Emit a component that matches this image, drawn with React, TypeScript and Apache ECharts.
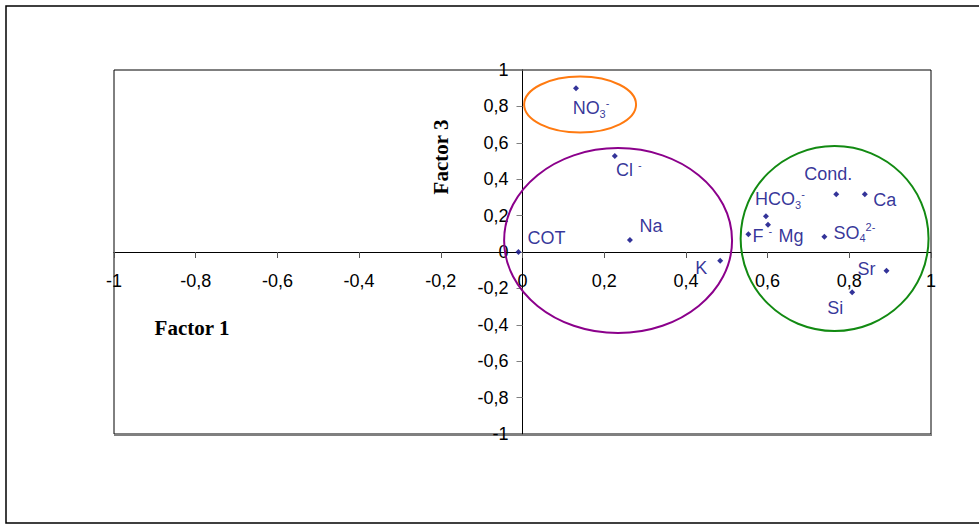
import React, { useEffect, useRef } from 'react';
import * as echarts from 'echarts';

// Element loadings (Factor 1 on x, Factor 3 on y)
const elementLabels = [
  'NO{sub|3}{sup|-}',
  'Cl {sup|-}',
  'Na',
  'COT',
  'K',
  'F {sup|-}',
  'HCO{sub|3}{sup|-}',
  'Mg',
  'SO{sub|4}{sup|2-}',
  'Cond.',
  'Ca',
  'Sr',
  'Si',
];
const factor1 = [0.131, 0.226, 0.263, -0.01, 0.484, 0.553, 0.596, 0.601, 0.739, 0.768, 0.838, 0.891, 0.807];
const factor3 = [0.9, 0.527, 0.066, 0.0, -0.048, 0.097, 0.196, 0.15, 0.084, 0.317, 0.317, -0.103, -0.221];

// Cluster ellipses (data units)
const clusterCenterX = [0.141, 0.234, 0.764];
const clusterCenterY = [0.81, 0.063, 0.074];
const clusterRadiusX = [0.137, 0.279, 0.23];
const clusterRadiusY = [0.154, 0.508, 0.508];
const clusterColors = ['#FF7A10', '#8B008B', '#128A12'];

// Label placement (pixel offsets from each point)
const labelOffsets = [
  [15, 20], [14, 14], [21, -14], [28, -14], [-19, 7], [14, 2], [14, -17],
  [23, 11], [30, -4], [-8, -20], [20, 6], [-20, -2], [-17, 16],
];

const fmt = (v: number) => String(Math.round(v * 10) / 10).replace('.', ',');

const GRID_LEFT = 114;
const GRID_TOP = 70;
const GRID_W = 817;
const GRID_H = 364;

export default function App() {
  const ref = useRef<HTMLDivElement>(null);
  useEffect(() => {
    if (!ref.current) return;
    const chart = echarts.init(ref.current, undefined, { renderer: 'svg' });
    const navy = '#000080';
    const labelFont = 'Liberation Sans';
    const points = factor1.map((x, i) => ({
      value: [x, factor3[i]],
      label: {
        show: true,
        position: 'inside',
        align: 'center',
        verticalAlign: 'middle',
        offset: labelOffsets[i],
        formatter: elementLabels[i],
        color: navy,
        fontSize: 18,
        fontFamily: labelFont,
        lineHeight: 22,
        rich: {
          sub: { fontSize: 11, lineHeight: 11, verticalAlign: 'bottom', color: navy, fontFamily: labelFont },
          sup: { fontSize: 11, lineHeight: 11, verticalAlign: 'top', color: navy, fontFamily: labelFont },
        },
      },
    }));
    const ellipseSeries = clusterCenterX.map((cx, i) => ({
      type: 'custom',
      silent: true,
      z: 1,
      data: [[cx, clusterCenterY[i], clusterRadiusX[i], clusterRadiusY[i]]],
      encode: { x: 0, y: 1 },
      renderItem: (params: any, api: any) => {
        const c = api.coord([api.value(0), api.value(1)]);
        const s = api.size([api.value(2), api.value(3)]);
        return {
          type: 'ellipse',
          shape: { cx: c[0], cy: c[1], rx: s[0], ry: s[1] },
          style: { fill: 'none', stroke: clusterColors[i], lineWidth: 2 },
        };
      },
    }));
    chart.setOption({
      animation: false,
      grid: {
        show: true,
        left: GRID_LEFT,
        top: GRID_TOP,
        width: GRID_W,
        height: GRID_H,
        borderColor: '#000',
        borderWidth: 1,
        backgroundColor: 'transparent',
      },
      xAxis: {
        type: 'value',
        min: -1,
        max: 1,
        interval: 0.2,
        position: 'bottom',
        offset: -GRID_H / 2,
        axisLine: { show: true, onZero: false, lineStyle: { color: '#000', width: 1 } },
        axisTick: { show: true, inside: false, length: 6, lineStyle: { color: '#555' } },
        axisLabel: {
          show: true,
          margin: 20,
          formatter: fmt,
          color: '#000',
          fontSize: 18,
          fontFamily: labelFont,
          showMinLabel: true,
          showMaxLabel: true,
          hideOverlap: false,
        },
        splitLine: { show: false },
      },
      yAxis: {
        type: 'value',
        min: -1,
        max: 1,
        interval: 0.2,
        position: 'left',
        offset: -GRID_W / 2,
        axisLine: { show: true, onZero: false, lineStyle: { color: '#000', width: 1 } },
        axisTick: { show: true, inside: false, length: 6, lineStyle: { color: '#808080' } },
        axisLabel: {
          show: true,
          margin: 14,
          formatter: fmt,
          color: '#000',
          fontSize: 18,
          fontFamily: labelFont,
          showMinLabel: true,
          showMaxLabel: true,
          hideOverlap: false,
        },
        splitLine: { show: false },
      },
      series: [
        ...ellipseSeries,
        {
          type: 'scatter',
          symbol: 'diamond',
          symbolSize: 6,
          itemStyle: { color: navy },
          z: 3,
          data: points,
        },
      ],
      graphic: [
        {
          type: 'rect',
          shape: { x: 6, y: 6, width: 990, height: 517 },
          style: { fill: 'none', stroke: '#000', lineWidth: 1.5 },
          silent: true,
        },
        {
          type: 'line',
          shape: { x1: 114, y1: 435, x2: 932, y2: 435 },
          style: { stroke: '#808080', lineWidth: 2 },
          silent: true,
        },
        {
          type: 'text',
          x: 441,
          y: 157,
          rotation: Math.PI / 2,
          style: {
            text: 'Factor 3',
            font: 'bold 21px "Liberation Serif"',
            align: 'center',
            verticalAlign: 'middle',
            fill: '#000',
          },
        },
        {
          type: 'text',
          x: 192,
          y: 328,
          style: {
            text: 'Factor 1',
            font: 'bold 21px "Liberation Serif"',
            align: 'center',
            verticalAlign: 'middle',
            fill: '#000',
          },
        },
      ],
    });
    return () => chart.dispose();
  }, []);
  return (
    <div
      ref={ref}
      style={{ position: 'fixed', left: 0, top: 0, width: 979, height: 525, background: '#fff' }}
    />
  );
}
